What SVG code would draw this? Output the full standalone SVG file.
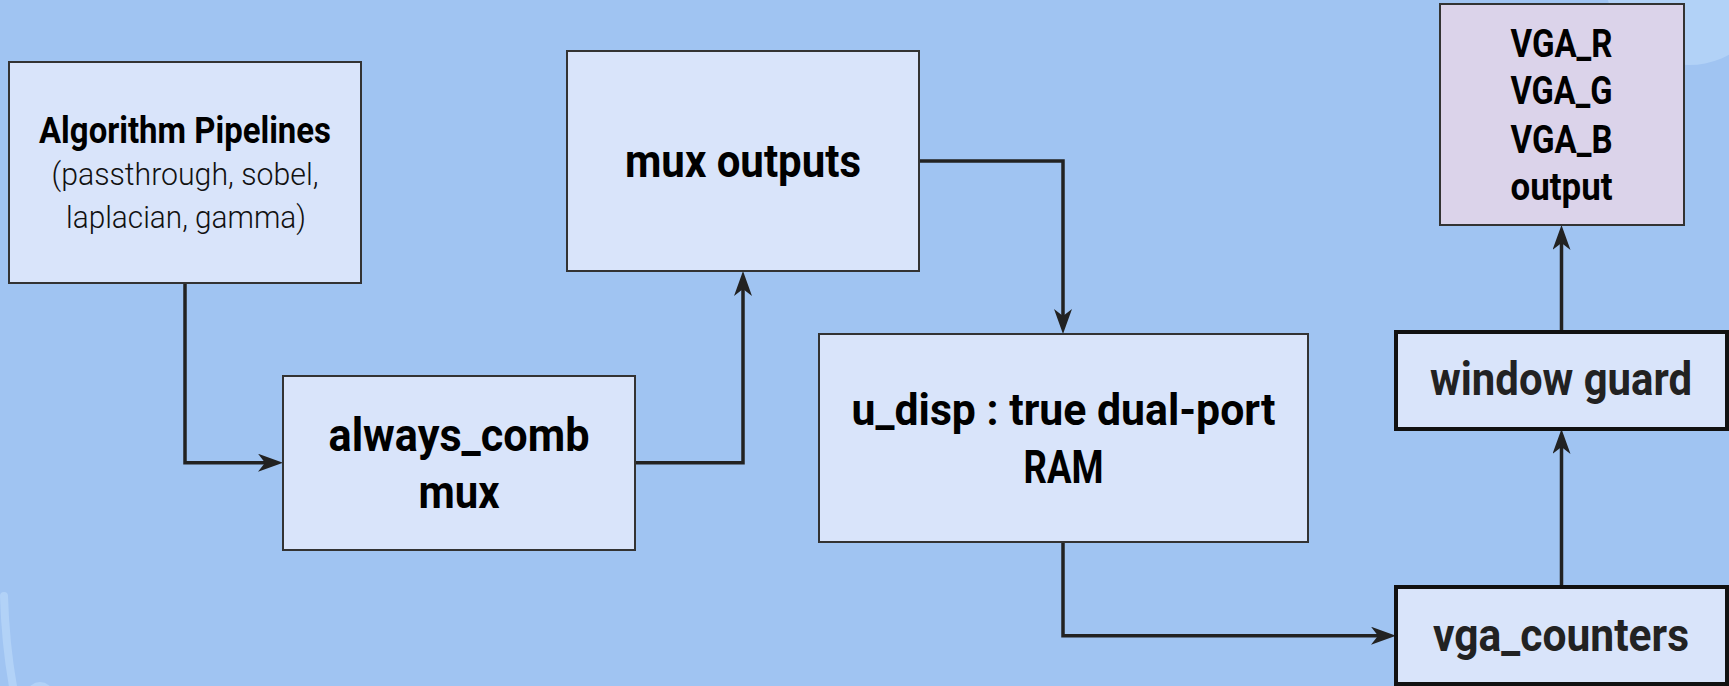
<svg xmlns="http://www.w3.org/2000/svg" width="1729" height="686" viewBox="0 0 1729 686">
<defs>
<style>
.box{fill:#d9e4fa;stroke:#333;stroke-width:2}
.thick{fill:#d9e4fa;stroke:#111;stroke-width:4}
.vga{fill:#dbd3ea;stroke:#333;stroke-width:2}
.t{font-family:"Liberation Sans Narrow","Roboto","Liberation Sans",sans-serif;font-weight:bold;text-anchor:middle;fill:#000}
.tl{font-family:"Roboto","Liberation Sans Narrow","Liberation Sans",sans-serif;font-weight:300;text-anchor:middle;fill:#111}
.dk{fill:#222}
.conn{fill:none;stroke:#222;stroke-width:3.5;stroke-linejoin:miter}
</style>
<marker id="arr" markerUnits="userSpaceOnUse" markerWidth="26" markerHeight="20" refX="15" refY="9" orient="auto">
<path d="M0,0 L25,9 L0,18 L7,9 Z" fill="#222"/>
</marker>
</defs>
<rect width="1729" height="686" fill="#a0c4f2"/>
<g id="decor">
<circle cx="1689" cy="-18" r="83" fill="#b2d2f7"/>
<path d="M4,596 C5,630 8,660 14,692" fill="none" stroke="#b2d2f7" stroke-width="8" stroke-linecap="round"/>
<ellipse cx="40" cy="692" rx="12" ry="10" fill="#b2d2f7"/>
</g>
<g id="connectors">
<path class="conn" d="M185,283 V462.7 H273" marker-end="url(#arr)"/>
<path class="conn" d="M635,462.7 H743 V281" marker-end="url(#arr)"/>
<path class="conn" d="M919,161 H1063 V324" marker-end="url(#arr)"/>
<path class="conn" d="M1063,542 V635.7 H1386" marker-end="url(#arr)"/>
<path class="conn" d="M1561.5,585 V439" marker-end="url(#arr)"/>
<path class="conn" d="M1561.5,330 V235" marker-end="url(#arr)"/>
</g>
<g id="algorithm-pipelines">
<rect class="box" x="9" y="62" width="352" height="221"/>
<text class="t" x="185" y="142.7" font-size="36" textLength="292" lengthAdjust="spacingAndGlyphs">Algorithm Pipelines</text>
<text class="tl" x="185" y="185" font-size="32" textLength="267" lengthAdjust="spacingAndGlyphs">(passthrough, sobel,</text>
<text class="tl" x="186" y="228.3" font-size="32" textLength="240" lengthAdjust="spacingAndGlyphs">laplacian, gamma)</text>
</g>
<g id="always-comb-mux">
<rect class="box" x="283" y="376" width="352" height="174"/>
<text class="t" x="459" y="450.7" font-size="46" textLength="261" lengthAdjust="spacingAndGlyphs">always_comb</text>
<text class="t" x="459" y="508.3" font-size="46" textLength="81" lengthAdjust="spacingAndGlyphs">mux</text>
</g>
<g id="mux-outputs">
<rect class="box" x="567" y="51" width="352" height="220"/>
<text class="t" x="743" y="176.7" font-size="46" textLength="236" lengthAdjust="spacingAndGlyphs">mux outputs</text>
</g>
<g id="u-disp">
<rect class="box" x="819" y="334" width="489" height="208"/>
<text class="t" x="1063.5" y="425" font-size="44" textLength="424" lengthAdjust="spacingAndGlyphs">u_disp : true dual-port</text>
<text class="t" x="1063.5" y="483.3" font-size="46" textLength="80" lengthAdjust="spacingAndGlyphs">RAM</text>
</g>
<g id="vga-output">
<rect class="vga" x="1440" y="4" width="244" height="221"/>
<text class="t" x="1561.5" y="56.7" font-size="38" textLength="102" lengthAdjust="spacingAndGlyphs">VGA_R</text>
<text class="t" x="1561.5" y="104.3" font-size="38" textLength="102" lengthAdjust="spacingAndGlyphs">VGA_G</text>
<text class="t" x="1561.5" y="152.7" font-size="38" textLength="102" lengthAdjust="spacingAndGlyphs">VGA_B</text>
<text class="t" x="1561.5" y="200" font-size="38" textLength="102" lengthAdjust="spacingAndGlyphs">output</text>
</g>
<g id="window-guard">
<rect class="thick" x="1396" y="332" width="331" height="97"/>
<text class="t dk" x="1561" y="395" font-size="46" textLength="262" lengthAdjust="spacingAndGlyphs">window guard</text>
</g>
<g id="vga-counters">
<rect class="thick" x="1396" y="587" width="331" height="97"/>
<text class="t dk" x="1561" y="651" font-size="46" textLength="256" lengthAdjust="spacingAndGlyphs">vga_counters</text>
</g>
</svg>
